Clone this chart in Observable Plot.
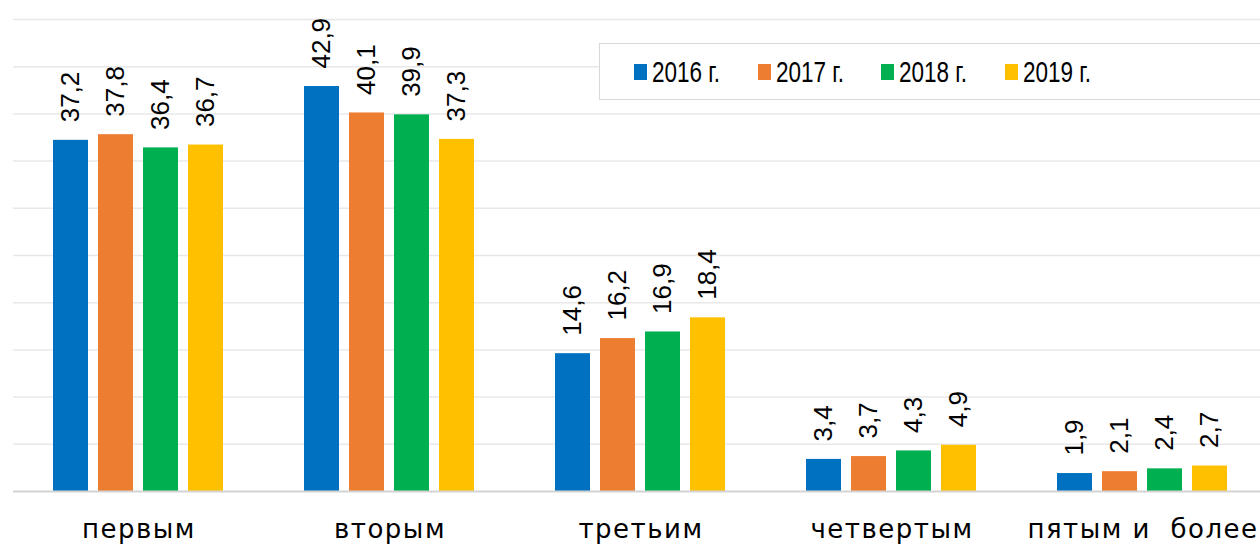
<!DOCTYPE html>
<html><head><meta charset="utf-8">
<script src="https://cdn.jsdelivr.net/npm/d3@7"></script>
<script src="https://cdn.jsdelivr.net/npm/@observablehq/plot@0.6"></script>
<style>
body{margin:0;background:#fff}
#wrap{position:relative;width:1260px;height:544px;overflow:hidden}
#wrap svg{max-width:none !important;position:absolute;left:0;top:0}
#legend{position:absolute;left:599px;top:43px;width:700px;height:57px;border:1px solid #d9d9d9;background:#fff;display:flex;align-items:center;padding-left:34px;box-sizing:border-box;font-family:"Liberation Sans",Arial,sans-serif;font-size:30px;color:#000}
.item{display:flex;align-items:center;width:123.5px;flex:none}
.sw{width:13px;height:16px;margin-right:5px;flex:none}
.tx{display:inline-block;transform:scaleX(0.75);transform-origin:left center;white-space:nowrap}
svg text{white-space:pre}
svg [aria-label^="fx-axis"] text{font-size:26px;font-family:"DejaVu Sans",sans-serif;fill:#000;letter-spacing:1.5px}
</style></head><body><div id="wrap"><div id="legend"></div></div>
<script>
const categories = ["первым","вторым","третьим","четвертым","пятым и  более"];
const years = ["2016 г.","2017 г.","2018 г.","2019 г."];
const colors = ["#0070C0","#ED7D31","#00B050","#FFC000"];
const v2016 = [37.2, 42.9, 14.6, 3.4, 1.9];
const v2017 = [37.8, 40.1, 16.2, 3.7, 2.1];
const v2018 = [36.4, 39.9, 16.9, 4.3, 2.4];
const v2019 = [36.7, 37.3, 18.4, 4.9, 2.7];
const gridTicks = [5,10,15,20,25,30,35,40,45,50];

const series = [v2016, v2017, v2018, v2019];
const data = [];
categories.forEach((c, i) => years.forEach((yr, j) => data.push({cat: c, year: yr, value: series[j][i]})));
const fmt = v => v.toFixed(1).replace(".", ",");

const chart = Plot.plot({
  width: 1269, height: 544,
  marginLeft: 12, marginRight: 0, marginTop: 19, marginBottom: 53,
  style: {fontFamily: "DejaVu Sans, sans-serif", fontSize: "26px", color: "#000", background: "transparent", maxWidth: "none"},
  fx: {domain: categories, padding: 0, axis: "bottom", tickSize: 0, tickPadding: 28, label: null},
  x: {domain: years, paddingInner: 0.212, paddingOuter: 0.859, axis: null},
  y: {domain: [0, 50], axis: null},
  color: {domain: years, range: colors},
  marks: [
    Plot.ruleY(gridTicks, {stroke: "#e8e8e8", strokeWidth: 1.5}),
    Plot.barY(data, {fx: "cat", x: "year", y: "value", fill: "year"}),
    Plot.ruleY([0], {stroke: "#d4d4d4", strokeWidth: 2}),
    Plot.text(data, {fx: "cat", x: "year", y: "value", text: d => fmt(d.value), rotate: -90, textAnchor: "start", dy: -18, fontSize: 26, fontFamily: "Liberation Sans, Arial, sans-serif", fill: "#000"})
  ]
});
const wrap = document.getElementById("wrap");
wrap.insertBefore(chart, wrap.firstChild);

const legend = document.getElementById("legend");
years.forEach((yr, j) => {
  const it = document.createElement("div"); it.className = "item";
  const sw = document.createElement("span"); sw.className = "sw"; sw.style.background = colors[j];
  const tx = document.createElement("span"); tx.className = "tx"; tx.textContent = yr;
  it.appendChild(sw); it.appendChild(tx); legend.appendChild(it);
});
</script></body></html>
